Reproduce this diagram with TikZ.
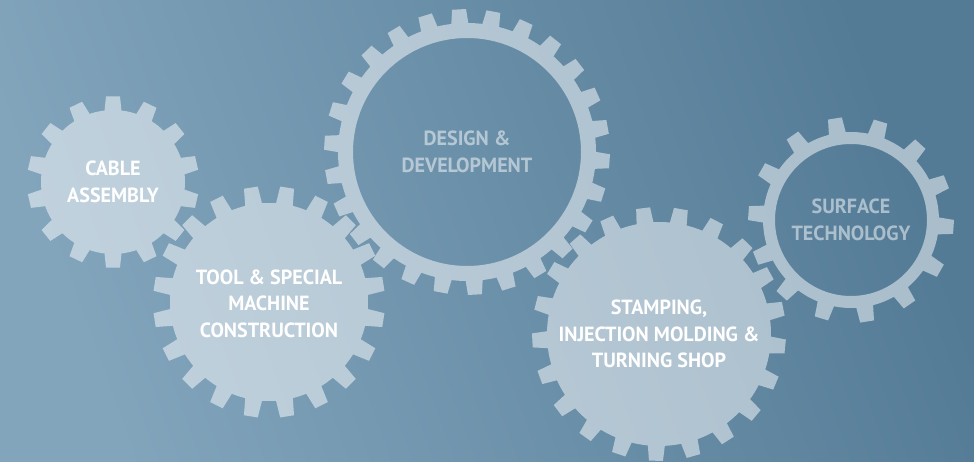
\documentclass[tikz,border=0pt]{standalone}
\usepackage{fontspec}
\newfontfamily\gearfont{PT Sans}[FakeStretch=0.98]
\usepackage{tikz}
\usetikzlibrary{positioning}
\definecolor{bgleft}{RGB}{130,165,188}
\definecolor{bgright}{RGB}{84,123,150}
\tikzset{%
    gear/.style={%
        fill=white,
        fill opacity=0.5,
        even odd rule,
    },
    solidtext/.style={%
        align=center,
        inner sep=0pt,
        text=white,
        font=\gearfont\bfseries\fontsize{20.5}{26.5}\selectfont,
    },
    ringtext/.style={%
        solidtext,
        text=white,
        text opacity=0.5,
    },
}
% #1 centre, #2 teeth, #3 phase, #4 root radius, #5 tip radius, #6 extra path
\newcommand\drawgear[6]{%
    \pgfmathsetmacro\gstep{360/#2}%
    \pgfmathsetmacro\gbase{8.5/#4*180/pi}%
    \pgfmathsetmacro\gtip{7/#5*180/pi}%
    \fill[gear, shift={(#1)}] ({#3-\gbase}:#4)
        \foreach \i [evaluate=\i as \ga using {#3+(\i-1)*\gstep}] in {1,...,#2}{%
            -- ({\ga-\gtip}:#5) -- ({\ga+\gtip}:#5) -- ({\ga+\gbase}:#4)
            arc[start angle={\ga+\gbase}, end angle={\ga+\gstep-\gbase}, radius=#4]
        } -- cycle #6;
}

\begin{document}
\begin{tikzpicture}[x=1pt, y=1pt]
    \shade[left color=bgleft, right color=bgright, shading angle=110]
        (0,0) rectangle (974,461);
    \useasboundingbox (0,0) rectangle (974,461);

    \coordinate (cable_c) at (113, 279);
    \coordinate (tool_c) at (269, 159);
    \coordinate (design_c) at (467, 309);
    \coordinate (stamping_c) at (659, 127);
    \coordinate (surface_c) at (851, 241);

    \drawgear{cable_c}{14}{90}{72}{86}{}
    \drawgear{tool_c}{20}{99}{99}{116}{}
    \drawgear{design_c}{26}{93.2}{129}{143}{(0,0) circle[radius=114]}
    \drawgear{stamping_c}{21}{97.2}{112}{127}{}
    \drawgear{surface_c}{14}{99}{88}{103}{(0,0) circle[radius=76]}

    \node [solidtext] at (cable_c) (cable) {CABLE\\ASSEMBLY};
    \node [solidtext] at ([yshift=-1.5pt]tool_c) (tool) {TOOL \& SPECIAL\\MACHINE\\CONSTRUCTION};
    \node [ringtext] at (design_c) (design) {DESIGN \&\\DEVELOPMENT};
    \node [solidtext] at (stamping_c) (stamping) {STAMPING,\\INJECTION MOLDING \&\\TURNING SHOP};
    \node [ringtext] at (surface_c) (surface) {SURFACE\\TECHNOLOGY};
\end{tikzpicture}
\end{document}
